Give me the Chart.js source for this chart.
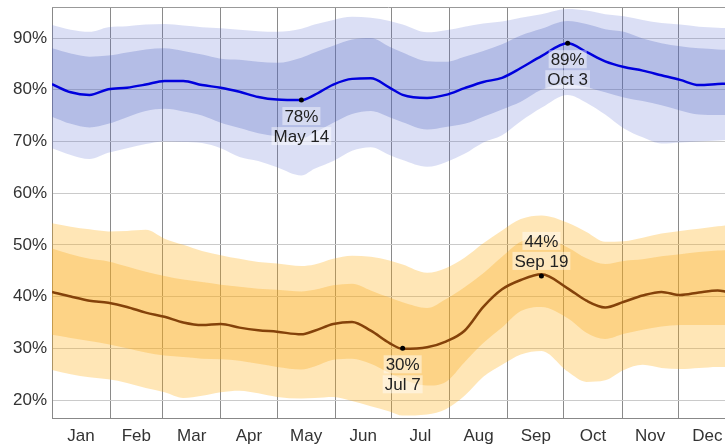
<!DOCTYPE html>
<html>
<head>
<meta charset="utf-8">
<script src="https://cdn.jsdelivr.net/npm/chart.js@4"></script>
<style>
  html, body { margin: 0; padding: 0; background: #fff; }
</style>
</head>
<body>
<canvas id="chart" width="725" height="448"></canvas>
<script>
// day of year (0 = Jan 1) for every sampled value
const days = [0, 10, 20, 30, 40, 50, 60, 70, 80, 90, 100, 110, 120, 133, 140, 150, 160, 170, 180, 187,
  200, 210, 220, 230, 240, 250, 261, 275, 285, 295, 305, 315, 325, 335, 345, 355, 360];

// high (blue) series
const hiMean = [81.1, 79.5, 79.0, 80.1, 80.4, 81.0, 81.7, 81.7, 80.9, 80.4, 79.6, 78.6, 78.1, 78.0, 79.0, 81.0, 82.1, 82.2, 80.4, 79.0,
  78.4, 79.0, 80.3, 81.5, 82.3, 84.2, 86.5, 89.0, 87.3, 85.5, 84.4, 83.7, 82.8, 81.9, 80.9, 81.1, 81.2];
const hiP90 = [92.5, 91.6, 91.2, 92.1, 92.3, 92.6, 92.7, 92.4, 92.1, 91.9, 91.6, 91.3, 91.2, 91.8, 92.6, 93.5, 94.1, 93.9, 93.3, 92.6,
  91.1, 91.5, 92.2, 92.8, 93.2, 93.9, 94.6, 95.6, 95.3, 94.6, 94.2, 93.5, 92.9, 92.6, 92.2, 92.0, 91.9];
const hiP75 = [88.0, 87.0, 86.4, 86.6, 87.2, 87.8, 88.0, 87.5, 86.8, 86.0, 85.8, 85.4, 85.2, 86.2, 87.2, 88.5, 89.7, 90.0, 88.3, 87.2,
  85.5, 85.4, 86.4, 87.5, 88.8, 90.5, 91.8, 93.3, 92.7, 91.7, 91.2, 89.9, 89.0, 88.4, 88.0, 87.8, 87.7];
const hiP25 = [74.8, 73.4, 72.7, 73.4, 74.7, 75.9, 76.3, 75.8, 75.0, 73.6, 72.6, 71.6, 71.0, 70.6, 71.7, 73.6, 75.3, 75.9, 74.7, 73.7,
  72.3, 72.8, 73.4, 74.8, 76.2, 77.7, 80.0, 81.0, 80.5, 79.5, 78.5, 77.8, 77.0, 76.0, 75.2, 75.1, 75.1];
const hiP10 = [68.7, 67.4, 66.6, 67.8, 68.7, 69.5, 70.0, 69.9, 69.7, 68.7, 67.0, 66.2, 65.0, 63.4, 64.7, 66.2, 68.2, 68.9, 67.4, 66.4,
  65.1, 66.0, 67.6, 69.8, 71.2, 73.9, 76.5, 79.0, 77.5, 75.2, 72.5, 70.8, 69.6, 69.8, 70.0, 70.2, 70.3];

// low (orange) series
const loMean = [40.9, 40.0, 39.2, 38.8, 38.0, 36.9, 36.1, 35.0, 34.5, 34.7, 34.0, 33.5, 33.2, 32.7, 33.4, 34.7, 35.1, 33.4, 31.0, 29.9,
  30.2, 31.3, 33.4, 38.0, 41.4, 43.2, 44.3, 41.6, 39.2, 37.9, 39.0, 40.2, 40.9, 40.3, 40.8, 41.2, 40.9];
const loP90 = [54.2, 53.5, 53.0, 52.6, 52.7, 52.9, 51.2, 50.0, 48.8, 48.0, 47.3, 46.7, 46.4, 45.9, 46.2, 47.3, 47.9, 47.7, 47.0, 46.2,
  44.6, 45.5, 47.5, 50.3, 52.8, 55.0, 55.7, 54.3, 52.5, 50.6, 50.7, 51.4, 52.2, 52.7, 53.1, 53.6, 53.8];
const loP75 = [49.3, 48.2, 47.3, 46.8, 45.8, 44.8, 44.0, 43.3, 42.8, 42.3, 41.9, 41.5, 41.3, 41.0, 41.3, 42.2, 42.5, 41.2, 39.8, 38.9,
  37.8, 39.5, 41.8, 44.5, 47.7, 50.6, 51.5, 49.5, 47.4, 46.3, 46.9, 47.2, 47.8, 48.2, 48.6, 48.9, 49.0];
const loP25 = [32.6, 32.0, 31.4, 30.8, 30.0, 29.2, 28.6, 28.3, 28.0, 27.9, 27.6, 27.0, 26.4, 25.9, 26.5, 27.8, 28.0, 27.0, 25.2, 24.0,
  22.8, 23.5, 27.3, 31.0, 34.0, 37.2, 38.0, 35.8, 33.0, 31.8, 32.8, 33.6, 34.2, 34.5, 34.5, 34.5, 34.5];
const loP10 = [25.8, 25.0, 24.4, 24.0, 23.3, 22.3, 21.5, 20.4, 20.8, 21.5, 21.8, 21.3, 20.6, 20.3, 20.4, 20.6, 19.8, 18.8, 17.8, 17.0,
  17.2, 18.2, 20.8, 24.5, 26.8, 28.8, 29.5, 25.5, 23.5, 23.8, 25.8, 26.8, 26.2, 26.0, 26.2, 26.4, 26.4];

// month axis
const monthNames = ['Jan', 'Feb', 'Mar', 'Apr', 'May', 'Jun', 'Jul', 'Aug', 'Sep', 'Oct', 'Nov', 'Dec'];
const monthStarts = [0, 31, 59, 90, 120, 151, 181, 212, 243, 273, 304, 334];
const yTicks = [20, 30, 40, 50, 60, 70, 80, 90];

// labelled extremes
const markDays = [133, 187, 261, 275];
const markVals = [78, 30, 44, 89];
const markDates = ['May 14', 'Jul 7', 'Sep 19', 'Oct 3'];
const markAbove = [false, false, true, false];

const monthMids = monthStarts.map((s, i) => s + ((monthStarts[i + 1] ?? 365) - s) / 2);
const pts = arr => arr.map((v, i) => ({ x: days[i], y: v }));
const FONT = '"Liberation Sans", Arial, sans-serif';

function band(data, color, fillTo, order) {
  return {
    data: pts(data), borderWidth: 0, pointRadius: 0, pointHoverRadius: 0, order: order,
    backgroundColor: color, fill: fillTo, cubicInterpolationMode: 'monotone'
  };
}

const labelsPlugin = {
  id: 'extremeLabels',
  afterDatasetsDraw(chart) {
    const { ctx, chartArea, scales } = chart;
    ctx.save();
    // frame top edge
    ctx.strokeStyle = '#999';
    ctx.lineWidth = 1;
    ctx.beginPath();
    ctx.moveTo(chartArea.left, chartArea.top + 0.5);
    ctx.lineTo(chartArea.right, chartArea.top + 0.5);
    ctx.stroke();

    ctx.font = '17px ' + FONT;
    ctx.textAlign = 'center';
    ctx.textBaseline = 'middle';
    markDays.forEach((d, i) => {
      const px = scales.x.getPixelForValue(d);
      const py = scales.y.getPixelForValue(markVals[i]);
      const lines = [markVals[i] + '%', markDates[i]];
      const offs = markAbove[i] ? [-35, -15] : [16, 36];
      lines.forEach((t, j) => {
        const w = ctx.measureText(t).width;
        ctx.fillStyle = 'rgba(255,255,255,0.45)';
        ctx.fillRect(px - w / 2 - 2, py + offs[j] - 9, w + 4, 18);
        ctx.fillStyle = '#222';
        ctx.fillText(t, px, py + offs[j] + 1);
      });
    });
    ctx.restore();
  }
};

new Chart(document.getElementById('chart'), {
  type: 'line',
  data: {
    datasets: [
      // 0..1 blue outer band, 2..3 blue inner band
      band(hiP10, 'transparent', false, 4),
      band(hiP90, 'rgba(90,110,210,0.22)', 0, 4),
      band(hiP25, 'transparent', false, 3),
      band(hiP75, 'rgba(80,100,190,0.28)', 2, 3),
      // 4..5 orange outer band, 6..7 orange inner band
      band(loP10, 'transparent', false, 4),
      band(loP90, 'rgba(255,175,20,0.31)', 4, 4),
      band(loP25, 'transparent', false, 3),
      band(loP75, 'rgba(250,170,30,0.32)', 6, 3),
      {
        data: pts(hiMean), borderColor: '#0000dd', borderWidth: 2.5, pointRadius: 0,
        fill: false, order: 1, cubicInterpolationMode: 'monotone'
      },
      {
        data: pts(loMean), borderColor: '#84420a', borderWidth: 2.5, pointRadius: 0,
        fill: false, order: 1, cubicInterpolationMode: 'monotone'
      },
      {
        data: markDays.map((d, i) => ({ x: d, y: markVals[i] })), showLine: false,
        pointRadius: 2.5, pointBackgroundColor: '#000', pointBorderWidth: 0, order: 0
      }
    ]
  },
  options: {
    responsive: false,
    animation: false,
    devicePixelRatio: 1,
    layout: { autoPadding: false, padding: { top: 7, left: 0, right: 0, bottom: 0 } },
    plugins: { legend: { display: false }, tooltip: { enabled: false } },
    scales: {
      x: {
        type: 'linear',
        min: 0,
        max: 358.9,
        afterBuildTicks: s => {
          s.ticks = [...monthStarts, ...monthMids].sort((a, b) => a - b).map(v => ({ value: v }));
        },
        afterFit: s => { s.height = 30; s.paddingLeft = 0; s.paddingRight = 0; },
        border: { color: '#888' },
        grid: {
          drawTicks: false,
          color: c => (c.tick && monthStarts.includes(c.tick.value)) ? '#8a8a8a' : 'rgba(0,0,0,0)'
        },
        ticks: {
          autoSkip: false, maxRotation: 0, padding: 8,
          color: '#333', font: { family: FONT, size: 17 },
          callback: v => { const i = monthMids.indexOf(v); return i >= 0 ? monthNames[i] : ''; }
        }
      },
      y: {
        min: 16.52,
        max: 96,
        afterBuildTicks: s => { s.ticks = yTicks.map(v => ({ value: v })); },
        afterFit: s => { s.width = 52; s.paddingTop = 0; s.paddingBottom = 0; },
        border: { color: '#888' },
        grid: { drawTicks: false, color: '#cacaca' },
        ticks: {
          padding: 5, color: '#333', font: { family: FONT, size: 17 },
          callback: v => v + '%'
        }
      }
    }
  },
  plugins: [labelsPlugin]
});
</script>
</body>
</html>
